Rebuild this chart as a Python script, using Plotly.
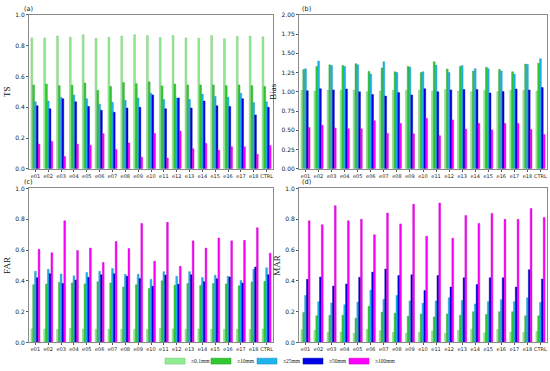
import plotly.graph_objects as go

categories = ["e01","e02","e03","e04","e05","e06","e07","e08","e09","e10",
              "e11","e12","e13","e14","e15","e16","e17","e18","CTRL"]
series_names = ["≥0.1mm", "≥10mm", "≥25mm", "≥50mm", "≥100mm"]

ts_01 = [0.85,0.85,0.863,0.855,0.87,0.848,0.855,0.862,0.87,0.865,0.853,0.866,0.85,0.848,0.865,0.845,0.86,0.862,0.857]
ts_10 = [0.545,0.55,0.54,0.543,0.557,0.51,0.535,0.56,0.553,0.565,0.538,0.55,0.545,0.545,0.545,0.54,0.545,0.54,0.535]
ts_25 = [0.435,0.44,0.465,0.48,0.455,0.42,0.432,0.445,0.46,0.49,0.45,0.46,0.45,0.485,0.47,0.465,0.49,0.43,0.435]
ts_50 = [0.41,0.39,0.455,0.435,0.405,0.38,0.368,0.395,0.4,0.48,0.39,0.46,0.395,0.44,0.41,0.405,0.455,0.35,0.4]
ts_100 = [0.16,0.178,0.08,0.16,0.153,0.228,0.125,0.168,0.075,0.23,0.07,0.245,0.13,0.165,0.12,0.143,0.143,0.095,0.152]

bias_01 = [1.02,1.01,1.02,1.02,1.02,1.0,1.01,1.02,1.02,1.02,1.01,1.03,1.01,1.0,1.02,1.0,1.02,1.02,1.01]
bias_10 = [1.29,1.33,1.35,1.34,1.365,1.265,1.31,1.26,1.33,1.25,1.39,1.295,1.33,1.27,1.32,1.29,1.26,1.36,1.37]
bias_25 = [1.30,1.40,1.34,1.33,1.35,1.23,1.39,1.25,1.32,1.26,1.345,1.25,1.34,1.30,1.30,1.27,1.23,1.355,1.43]
bias_50 = [1.015,1.04,1.025,1.035,1.0,0.965,0.945,0.99,0.96,1.04,1.0,1.025,1.03,1.03,0.985,1.005,1.035,1.025,1.055]
bias_100 = [0.535,0.565,0.53,0.52,0.52,0.625,0.46,0.59,0.455,0.655,0.43,0.635,0.515,0.59,0.505,0.59,0.59,0.51,0.445]

far_01 = [0.088,0.087,0.085,0.09,0.086,0.085,0.086,0.085,0.085,0.085,0.09,0.088,0.085,0.087,0.085,0.085,0.086,0.085,0.087]
far_10 = [0.375,0.38,0.39,0.387,0.38,0.395,0.387,0.36,0.375,0.35,0.4,0.372,0.383,0.37,0.383,0.38,0.368,0.393,0.397]
far_25 = [0.462,0.475,0.445,0.433,0.455,0.462,0.48,0.443,0.443,0.41,0.46,0.43,0.46,0.422,0.437,0.43,0.402,0.475,0.485]
far_50 = [0.42,0.447,0.383,0.405,0.423,0.44,0.447,0.43,0.415,0.365,0.438,0.378,0.44,0.395,0.413,0.425,0.386,0.49,0.44]
far_100 = [0.605,0.583,0.79,0.597,0.613,0.52,0.655,0.61,0.773,0.528,0.78,0.495,0.66,0.613,0.678,0.66,0.663,0.745,0.58]

mar_01 = [0.082,0.078,0.065,0.068,0.06,0.085,0.076,0.066,0.06,0.066,0.075,0.06,0.078,0.085,0.063,0.085,0.068,0.066,0.072]
mar_10 = [0.195,0.173,0.177,0.177,0.157,0.235,0.197,0.19,0.17,0.185,0.165,0.185,0.177,0.2,0.182,0.2,0.2,0.173,0.173]
mar_25 = [0.305,0.265,0.257,0.245,0.263,0.34,0.28,0.305,0.27,0.255,0.27,0.29,0.273,0.25,0.265,0.278,0.265,0.29,0.26]
mar_50 = [0.41,0.425,0.367,0.38,0.423,0.457,0.477,0.435,0.44,0.338,0.435,0.36,0.42,0.377,0.42,0.42,0.36,0.473,0.412]
mar_100 = [0.79,0.765,0.888,0.79,0.8,0.7,0.84,0.77,0.897,0.69,0.905,0.677,0.825,0.773,0.838,0.8,0.8,0.87,0.812]

panels = [
    ("TS", "(a)", [ts_01, ts_10, ts_25, ts_50, ts_100], [0, 1.0], 0.2, ".1f"),
    ("Bias", "(b)", [bias_01, bias_10, bias_25, bias_50, bias_100], [0, 2.0], 0.25, ".2f"),
    ("FAR", "(c)", [far_01, far_10, far_25, far_50, far_100], [0, 1.0], 0.2, ".1f"),
    ("MAR", "(d)", [mar_01, mar_10, mar_25, mar_50, mar_100], [0, 1.0], 0.2, ".1f"),
]

colors = ["#90EE90", "#32C832", "#1EB4EB", "#0000E6", "#FF00FF"]
edge = ["#6fb86f", "#2a9a2a", "#1890c0", "#0000a0", "#c000c0"]

W, H = 550, 371
xdom = [[29 / W, 273 / W], [299 / W, 547 / W]]
ydom = [[1 - 168 / H, 1 - 11 / H], [1 - 345 / H, 1 - 188 / H]]
label_x = [22 / W, 300 / W]

fig = go.Figure()
layout = {}
annotations = []
shapes = []
for i, (ytitle, lab, data, yr, dt, fmt) in enumerate(panels):
    r, c = divmod(i, 2)
    n = i + 1
    xa = "x" if n == 1 else f"x{n}"
    ya = "y" if n == 1 else f"y{n}"
    for k, vals in enumerate(data):
        fig.add_trace(go.Bar(
            x=categories, y=vals, name=series_names[k],
            marker=dict(color=colors[k], line=dict(color=edge[k], width=0.4)),
            xaxis=xa, yaxis=ya, showlegend=False,
        ))
    axis_common = dict(showline=True, linecolor="#8a8a8a", linewidth=1, mirror=True,
                       ticks="outside", ticklen=2, tickcolor="#555", showgrid=False, zeroline=False)
    layout["xaxis" if n == 1 else f"xaxis{n}"] = dict(
        domain=xdom[c], anchor=ya, tickfont=dict(size=5, family="DejaVu Sans", color="#222"),
        tickangle=0, **axis_common)
    layout["yaxis" if n == 1 else f"yaxis{n}"] = dict(
        domain=ydom[r], anchor=xa, range=yr, tickmode="linear", tick0=0, dtick=dt,
        tickformat=fmt, ticklabeloverflow="allow",
        tickfont=dict(size=6, family="DejaVu Sans", color="#222"),
        title=dict(text=ytitle, font=dict(size=9, family="Liberation Serif", color="#111"), standoff=3),
        **axis_common)
    annotations.append(dict(text=lab, x=label_x[c], y=ydom[r][1], xref="paper", yref="paper",
                            xanchor="left", yanchor="bottom", showarrow=False,
                            font=dict(size=6.5, family="DejaVu Sans", color="#222")))

# legend drawn as patches + labels along the bottom
leg_x0 = 165
leg_step = 46
leg_y = 1 - 364 / H
for k, name in enumerate(series_names):
    x0 = leg_x0 + k * leg_step
    shapes.append(dict(type="rect", xref="paper", yref="paper",
                       x0=x0 / W, x1=(x0 + 20) / W, y0=leg_y - 3 / H, y1=leg_y + 3 / H,
                       fillcolor=colors[k], line=dict(color=edge[k], width=0.5)))
    annotations.append(dict(text=name, x=(x0 + 24) / W, y=leg_y, xref="paper", yref="paper",
                            xanchor="left", yanchor="middle", showarrow=False,
                            font=dict(size=5.5, family="Liberation Serif", color="#222")))

fig.update_layout(
    **layout,
    annotations=annotations,
    shapes=shapes,
    barmode="group", bargap=0.3, bargroupgap=0,
    width=W, height=H,
    margin=dict(l=0, r=0, t=0, b=0),
    plot_bgcolor="white", paper_bgcolor="white",
    showlegend=False,
)
fig.write_html("out.html", post_script="document.body.style.margin='0';",
               config={"staticPlot": True, "displayModeBar": False})
